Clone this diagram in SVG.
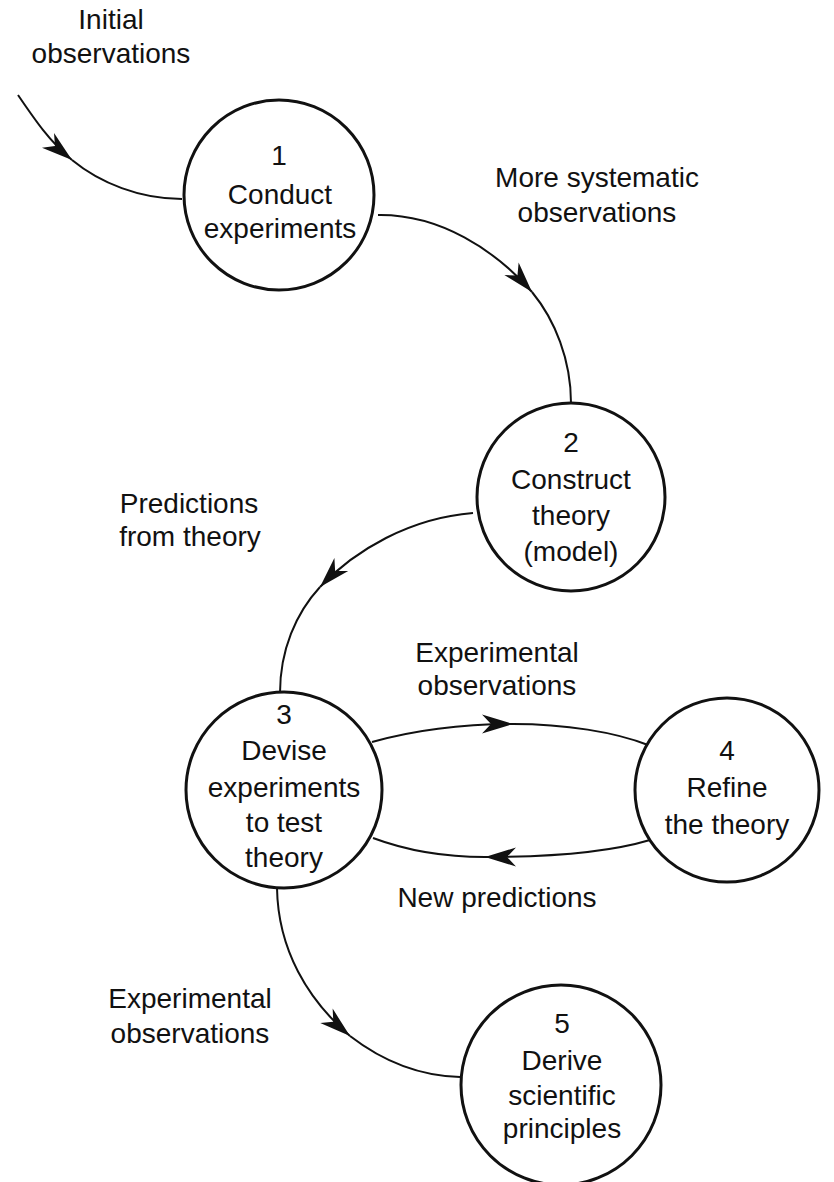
<svg xmlns="http://www.w3.org/2000/svg" width="834" height="1182" viewBox="0 0 834 1182">
<style>
.node circle{fill:#fff;stroke:#111;stroke-width:3}
.conn path{fill:none;stroke:#111;stroke-width:2}
text{font-family:"Liberation Sans",Arial,sans-serif;font-size:28px;fill:#111;text-anchor:middle}
</style>
<defs>
<marker id="ah" markerUnits="userSpaceOnUse" viewBox="-32 -12 34 24" refX="0" refY="0" markerWidth="34" markerHeight="24" orient="auto">
<path d="M0,0 L-31,-9.5 L-22,0 L-31,9.5 Z" fill="#111"/>
</marker>
</defs>
<rect width="834" height="1182" fill="#fff"/>
<g id="connectors" class="conn">
<path d="M18,95 C35,120 50,142 72,160" marker-end="url(#ah)"/>
<path d="M72,160 C100,183 140,199 182,199"/>
<path d="M378,215 C440,214 495,250 532,292" marker-end="url(#ah)"/>
<path d="M532,292 C555,320 571,360 571,403"/>
<path d="M473,513 C410,518 355,550 320,587" marker-end="url(#ah)"/>
<path d="M320,587 C296,613 280,650 280,693"/>
<path d="M372,742 C415,730 465,724 513,724" marker-end="url(#ah)"/>
<path d="M513,724 C565,724 615,732 648,745"/>
<path d="M650,840 C610,852 555,857 485,857" marker-end="url(#ah)"/>
<path d="M485,857 C445,857 405,850 373,838"/>
<path d="M277,888 C278,950 308,1000 350,1036" marker-end="url(#ah)"/>
<path d="M350,1036 C385,1063 420,1076 460,1077"/>
</g>
<g id="labels">
<text x="111" y="29">Initial</text>
<text x="111" y="63">observations</text>
<text x="597" y="187">More systematic</text>
<text x="597" y="222">observations</text>
<text x="189" y="513">Predictions</text>
<text x="190" y="546">from theory</text>
<text x="497" y="662">Experimental</text>
<text x="497" y="695">observations</text>
<text x="497" y="907">New predictions</text>
<text x="190" y="1008">Experimental</text>
<text x="190" y="1043">observations</text>
</g>
<g id="node1" class="node">
<circle cx="279" cy="195" r="95"/>
<text x="279" y="165">1</text>
<text x="280" y="204">Conduct</text>
<text x="280" y="238">experiments</text>
</g>
<g id="node2" class="node">
<circle cx="571" cy="497" r="94"/>
<text x="571" y="452">2</text>
<text x="571" y="489">Construct</text>
<text x="571" y="525">theory</text>
<text x="571" y="561">(model)</text>
</g>
<g id="node3" class="node">
<circle cx="284" cy="790" r="98"/>
<text x="284" y="724">3</text>
<text x="284" y="760">Devise</text>
<text x="284" y="797">experiments</text>
<text x="284" y="832">to test</text>
<text x="284" y="867">theory</text>
</g>
<g id="node4" class="node">
<circle cx="727" cy="790" r="92"/>
<text x="727" y="760">4</text>
<text x="727" y="797">Refine</text>
<text x="727" y="834">the theory</text>
</g>
<g id="node5" class="node">
<circle cx="561" cy="1085" r="100"/>
<text x="562" y="1033">5</text>
<text x="562" y="1070">Derive</text>
<text x="562" y="1105">scientific</text>
<text x="562" y="1138">principles</text>
</g>
</svg>
